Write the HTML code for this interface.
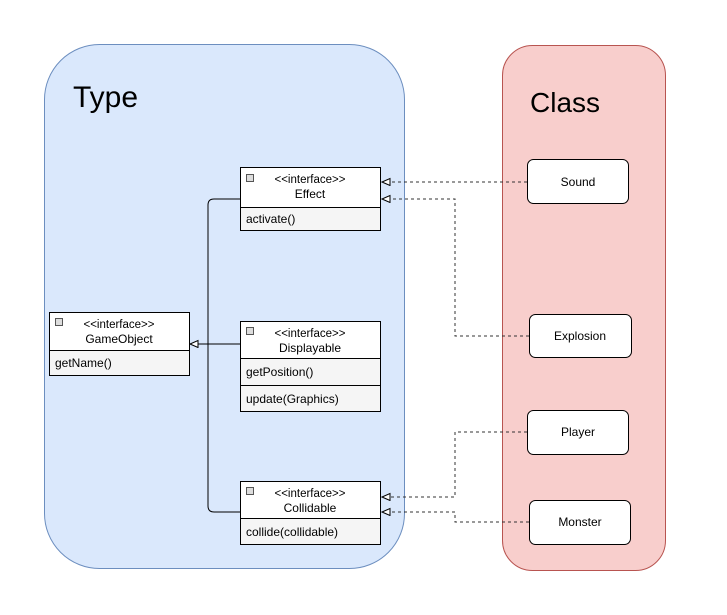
<!DOCTYPE html>
<html><head><style>body{margin:0;background:#fff}svg{display:block}text{font-family:"Liberation Sans",sans-serif;fill:#000}</style></head>
<body>
<svg width="727" height="615" viewBox="0 0 727 615" xmlns="http://www.w3.org/2000/svg">
<defs>
<marker id="a" markerWidth="10" markerHeight="10" refX="9" refY="4" orient="auto" markerUnits="userSpaceOnUse"><path d="M9,4 L1,0.5 L1,7.5 Z" fill="#fff" stroke="#000" stroke-width="1"/></marker>
</defs>
<rect x="44.5" y="44.5" width="360" height="524" rx="55" fill="#dae8fc" stroke="#6c8ebf"/>
<rect x="502.5" y="45.5" width="163" height="525" rx="30" fill="#f8cecc" stroke="#b85450"/>
<text x="73" y="107" font-size="30">Type</text>
<text x="530" y="112" font-size="28">Class</text>

<g stroke="#000" stroke-width="1">
<path d="M240,199 H214 Q208,199 208,205 V506 Q208,512 214,512 H240" fill="none"/>
<path d="M240,344 H190" fill="none" marker-end="url(#a)"/>
</g>
<g stroke="#333" stroke-width="1" stroke-dasharray="3,3" fill="none">
<path d="M527,182 H382" marker-end="url(#a)"/>
<path d="M529,336 H455 V199 H382" marker-end="url(#a)"/>
<path d="M527,432 H455 V497 H382" marker-end="url(#a)"/>
<path d="M529,522 H455 V512 H382" marker-end="url(#a)"/>
</g>

<g stroke="#000">
<rect x="240.5" y="167.5" width="140" height="63" fill="#f5f5f5"/>
<rect x="240.5" y="167.5" width="140" height="40" fill="#fff"/>
<rect x="240.5" y="321.5" width="140" height="90" fill="#f5f5f5"/>
<rect x="240.5" y="321.5" width="140" height="37" fill="#fff"/>
<line x1="240" y1="385.5" x2="381" y2="385.5"/>
<rect x="240.5" y="481.5" width="140" height="63" fill="#f5f5f5"/>
<rect x="240.5" y="481.5" width="140" height="37" fill="#fff"/>
<rect x="49.5" y="312.5" width="140" height="63" fill="#f5f5f5"/>
<rect x="49.5" y="312.5" width="140" height="38" fill="#fff"/>
<rect x="527.5" y="159.5" width="101" height="44" rx="6" fill="#fff"/>
<rect x="529.5" y="314.5" width="102" height="43" rx="6" fill="#fff"/>
<rect x="527.5" y="410.5" width="101" height="44" rx="6" fill="#fff"/>
<rect x="529.5" y="500.5" width="101" height="44" rx="6" fill="#fff"/>
</g>
<g fill="#ddd" stroke="#555" stroke-width="1">
<rect x="246.5" y="174.5" width="7" height="7"/><rect x="246.5" y="327.5" width="7" height="7"/>
<rect x="246.5" y="487.5" width="7" height="7"/><rect x="55.5" y="318.5" width="7" height="7"/>
</g>
<g font-size="11.5" text-anchor="middle">
<text x="310" y="183">&lt;&lt;interface&gt;&gt;</text><text x="310" y="198" font-size="12">Effect</text>
<text x="310" y="337">&lt;&lt;interface&gt;&gt;</text><text x="310" y="352" font-size="12">Displayable</text>
<text x="310" y="497">&lt;&lt;interface&gt;&gt;</text><text x="310" y="512" font-size="12">Collidable</text>
<text x="119" y="328">&lt;&lt;interface&gt;&gt;</text><text x="119" y="343" font-size="12">GameObject</text>
</g>
<g font-size="12" text-anchor="middle">
<text x="578" y="186">Sound</text>
<text x="580" y="340">Explosion</text>
<text x="578" y="436">Player</text>
<text x="580" y="526">Monster</text>
</g>
<g font-size="12">
<text x="246" y="223">activate()</text>
<text x="246" y="376">getPosition()</text>
<text x="246" y="403">update(Graphics)</text>
<text x="246" y="536">collide(collidable)</text>
<text x="55" y="367">getName()</text>
</g>
</svg>
</body></html>
